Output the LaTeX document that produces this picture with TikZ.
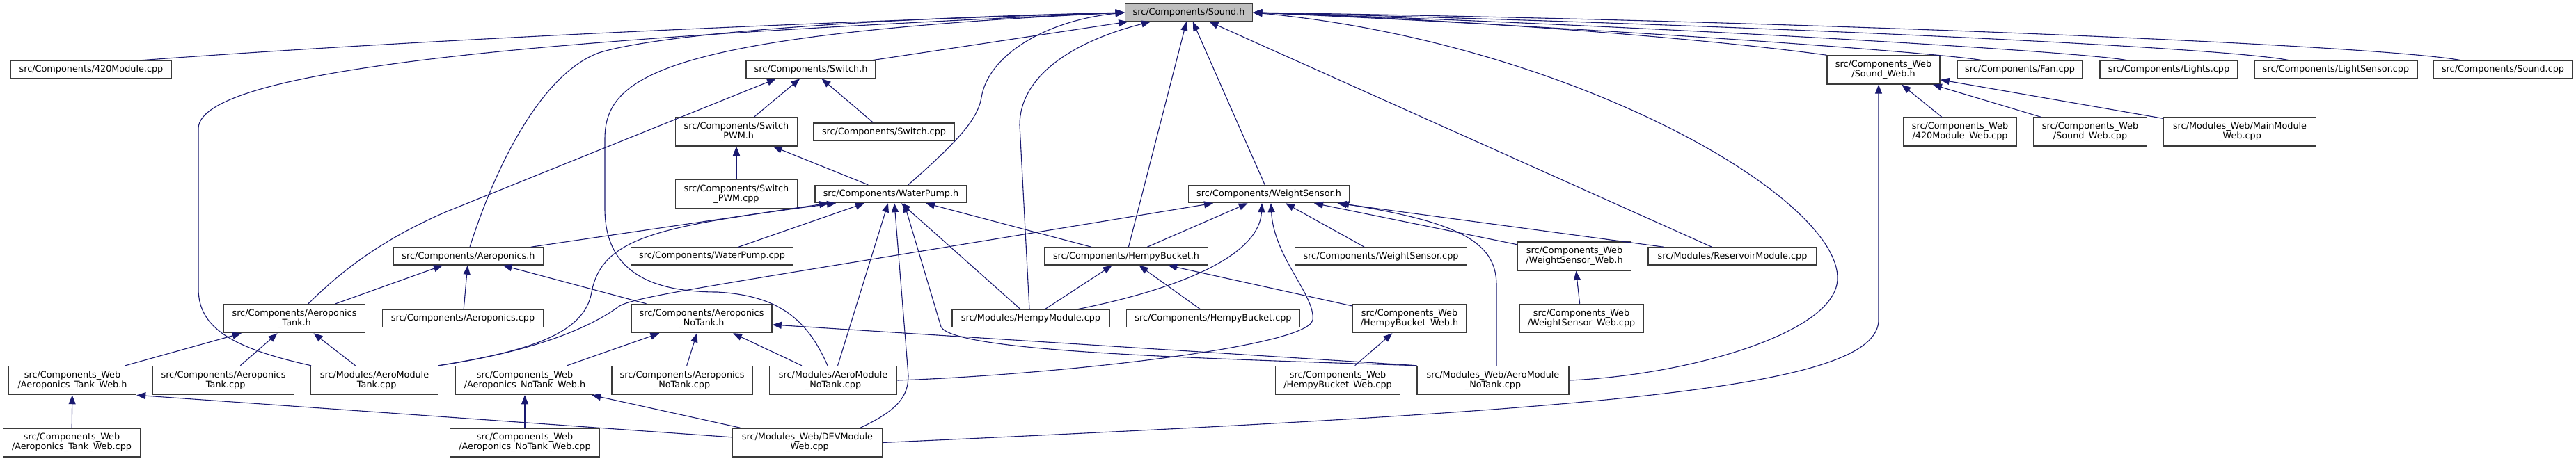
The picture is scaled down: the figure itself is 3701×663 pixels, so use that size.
\documentclass[tikz,border=0pt]{standalone}
\usepackage{fontspec}
\setmainfont{DejaVu Sans}
\usepackage{xcolor}
\definecolor{EdgeBlue}{HTML}{191970}
\definecolor{BoxLine}{HTML}{3A3A3A}
\definecolor{RootFill}{HTML}{BFBFBF}
\usepackage{tikz}
\usetikzlibrary{arrows.meta}
\tikzset{
  filenode/.style={
    draw=BoxLine,
    fill=white,
    line width=1.5pt,
    inner sep=0pt,
    minimum height=25pt,
    align=center,
    font=\fontsize{12.8}{14}\selectfont
  },
  twoline/.style={
    minimum height=41pt
  },
  rootnode/.style={
    filenode,
    fill=RootFill
  },
  incline/.style={
    draw=EdgeBlue,
    line width=1.1pt,
    -{Triangle[length=13pt,width=10pt]}
  }
}

\begin{document}
\begin{tikzpicture}[x=1pt,y=-1pt]
  \useasboundingbox (0,0) rectangle (3701,663);
  \node[rootnode, minimum width=183pt] (sound) at (1708,18) {src/Components/Sound.h};
  \node[filenode, minimum width=231pt] (m420) at (131,100) {src/Components/420Module.cpp};
  \node[filenode, minimum width=186pt] (switchh) at (1165,100) {src/Components/Switch.h};
  \node[filenode, twoline, minimum width=162pt] (soundweb) at (2706,100.5) {src/Components\_Web\\/Sound\_Web.h};
  \node[filenode, minimum width=180pt] (fan) at (2902,100) {src/Components/Fan.cpp};
  \node[filenode, minimum width=198pt] (lights) at (3116,100) {src/Components/Lights.cpp};
  \node[filenode, minimum width=234pt] (lightsensor) at (3356,100) {src/Components/LightSensor.cpp};
  \node[filenode, minimum width=199pt] (soundcpp) at (3596,100) {src/Components/Sound.cpp};
  \node[filenode, twoline, minimum width=175pt] (switchpwmh) at (1058,189.5) {src/Components/Switch\\\_PWM.h};
  \node[filenode, minimum width=202pt] (switchcpp) at (1270,189.5) {src/Components/Switch.cpp};
  \node[filenode, twoline, minimum width=163pt] (m420web) at (2816,189.5) {src/Components\_Web\\/420Module\_Web.cpp};
  \node[filenode, twoline, minimum width=163pt] (soundwebcpp) at (3003,189.5) {src/Components\_Web\\/Sound\_Web.cpp};
  \node[filenode, twoline, minimum width=219pt] (mainweb) at (3218,189.5) {src/Modules\_Web/MainModule\\\_Web.cpp};
  \node[filenode, twoline, minimum width=175pt] (switchpwmcpp) at (1058,279) {src/Components/Switch\\\_PWM.cpp};
  \node[filenode, minimum width=218pt] (waterpumph) at (1280,279) {src/Components/WaterPump.h};
  \node[filenode, minimum width=231pt] (weighth) at (1823,279) {src/Components/WeightSensor.h};
  \node[filenode, minimum width=216pt] (aeroh) at (673,368.5) {src/Components/Aeroponics.h};
  \node[filenode, minimum width=233pt] (waterpumpcpp) at (1023,368.5) {src/Components/WaterPump.cpp};
  \node[filenode, minimum width=235pt] (hempyh) at (1618,368.5) {src/Components/HempyBucket.h};
  \node[filenode, minimum width=247pt] (weightcpp) at (1984,368.5) {src/Components/WeightSensor.cpp};
  \node[filenode, twoline, minimum width=163pt] (weightwebh) at (2262,368.5) {src/Components\_Web\\/WeightSensor\_Web.h};
  \node[filenode, minimum width=242pt] (reservoir) at (2489,368.5) {src/Modules/ReservoirModule.cpp};
  \node[filenode, twoline, minimum width=203pt] (aerotankh) at (423,458) {src/Components/Aeroponics\\\_Tank.h};
  \node[filenode, minimum width=231pt] (aerocpp) at (665,458) {src/Components/Aeroponics.cpp};
  \node[filenode, twoline, minimum width=202pt] (aeronotankh) at (1008,458) {src/Components/Aeroponics\\\_NoTank.h};
  \node[filenode, minimum width=226pt] (hempymod) at (1481,458) {src/Modules/HempyModule.cpp};
  \node[filenode, minimum width=249pt] (hempycpp) at (1743,458) {src/Components/HempyBucket.cpp};
  \node[filenode, twoline, minimum width=164pt] (hempywebh) at (2025,458) {src/Components\_Web\\/HempyBucket\_Web.h};
  \node[filenode, twoline, minimum width=178pt] (weightwebcpp) at (2272,458) {src/Components\_Web\\/WeightSensor\_Web.cpp};
  \node[filenode, twoline, minimum width=183pt] (aerotankwebh) at (104,547) {src/Components\_Web\\/Aeroponics\_Tank\_Web.h};
  \node[filenode, twoline, minimum width=203pt] (aerotankcpp) at (321,547) {src/Components/Aeroponics\\\_Tank.cpp};
  \node[filenode, twoline, minimum width=183pt] (aeromodtank) at (538,547) {src/Modules/AeroModule\\\_Tank.cpp};
  \node[filenode, twoline, minimum width=199pt] (aeronotankwebh) at (754,547) {src/Components\_Web\\/Aeroponics\_NoTank\_Web.h};
  \node[filenode, twoline, minimum width=202pt] (aeronotankcpp) at (980,547) {src/Components/Aeroponics\\\_NoTank.cpp};
  \node[filenode, twoline, minimum width=183pt] (aeromodnotank) at (1197,547) {src/Modules/AeroModule\\\_NoTank.cpp};
  \node[filenode, twoline, minimum width=179pt] (hempywebcpp) at (1922,547) {src/Components\_Web\\/HempyBucket\_Web.cpp};
  \node[filenode, twoline, minimum width=218pt] (webaeronotank) at (2145,547) {src/Modules\_Web/AeroModule\\\_NoTank.cpp};
  \node[filenode, twoline, minimum width=197pt] (aerotankwebcpp) at (103,636.5) {src/Components\_Web\\/Aeroponics\_Tank\_Web.cpp};
  \node[filenode, twoline, minimum width=215pt] (aeronotankwebcpp) at (754,636.5) {src/Components\_Web\\/Aeroponics\_NoTank\_Web.cpp};
  \node[filenode, twoline, minimum width=215pt] (devweb) at (1160,636.5) {src/Modules\_Web/DEVModule\\\_Web.cpp};
  \foreach \src/\dst in {switchpwmh/switchh,switchcpp/switchh,switchh/sound,switchpwmcpp/switchpwmh,waterpumph/switchpwmh,waterpumpcpp/waterpumph,aeroh/waterpumph,hempyh/waterpumph,hempymod/waterpumph,aeromodnotank/waterpumph,hempyh/sound,weighth/sound,reservoir/sound,hempyh/weighth,weightcpp/weighth,weightwebh/weighth,reservoir/weighth,hempymod/hempyh,hempycpp/hempyh,hempywebh/hempyh,hempywebcpp/hempywebh,weightwebcpp/weightwebh,m420web/soundweb,soundwebcpp/soundweb,mainweb/soundweb,aerotankh/aeroh,aerocpp/aeroh,aeronotankh/aeroh,aerotankwebh/aerotankh,aerotankcpp/aerotankh,aeromodtank/aerotankh,aerotankwebcpp/aerotankwebh,aeronotankwebh/aeronotankh,aeronotankcpp/aeronotankh,aeromodnotank/aeronotankh,aeronotankwebcpp/aeronotankwebh,devweb/aeronotankwebh}{\draw[incline] (\src) -- (\dst);}
  \draw[incline] (devweb) -- (aerotankwebh.south east);
  \draw[incline] (webaeronotank.north west) -- ([yshift=-9pt]aeronotankh.east);
  \draw[incline] ([xshift=71pt]m420.north) .. controls (700,50) and (1300,28) .. (sound.west);
  \draw[incline] ([xshift=-91pt]aeromodtank.north) .. controls (330,500) and (285,470) .. (285,415) -- (285,185) .. controls (285,90) and (900,50) .. (sound.west);
  \draw[incline] ([xshift=2pt]aeroh.north) .. controls (705,260) and (770,110) .. (860,76) .. controls (960,45) and (1300,25) .. (sound.west);
  \draw[incline] ([xshift=-8pt]aeromodnotank.north) .. controls (1160,460) and (1120,425) .. (1030,420) .. controls (920,420) and (869,380) .. (869,300) -- (869,200) .. controls (869,110) and (950,50) .. (sound.west);
  \draw[incline] ([xshift=25pt]waterpumph.north) .. controls (1380,200) and (1405,170) .. (1410,140) .. controls (1420,80) and (1500,30) .. (sound.west);
  \draw[incline] ([xshift=-2pt]hempymod.north) -- (1465,180) .. controls (1465,110) and (1540,60) .. ([xshift=-55pt]sound.south);
  \draw[incline] (soundweb.north west) .. controls (2450,55) and (2100,28) .. (sound.east);
  \draw[incline] ([xshift=-54pt]fan.north) .. controls (2790,76) and (2300,40) .. (sound.east);
  \draw[incline] ([xshift=-60pt]lights.north) .. controls (3000,75) and (2400,38) .. (sound.east);
  \draw[incline] ([xshift=-67pt]lightsensor.north) .. controls (3200,68) and (2500,35) .. (sound.east);
  \draw[incline] ([xshift=-60pt]soundcpp.north) .. controls (3420,65) and (2600,30) .. (sound.east);
  \draw[incline] (webaeronotank.east) .. controls (2420,540) and (2640,480) .. (2640,400) .. controls (2640,280) and (2250,60) .. (sound.east);
  \draw[incline] (devweb.east) .. controls (2300,590) and (2699,560) .. (2699,460) -- ([xshift=-7pt]soundweb.south);
  \draw[incline] ([xshift=20pt]aerotankh.north) .. controls (500,380) and (560,340) .. (640,305) -- ([xshift=-50pt]switchh.south);
  \draw[incline] (aeromodtank.north east) .. controls (760,505) and (840,480) .. (850,420) .. controls (865,340) and (950,325) .. ([xshift=-79pt]waterpumph.south);
  \draw[incline] (aeromodtank.north east) .. controls (770,505) and (850,470) .. (890,440) .. controls (920,425) and (1000,415) .. ([xshift=-80pt]weighth.south);
  \draw[incline] ([xshift=67pt]hempymod.north) .. controls (1720,410) and (1810,360) .. ([xshift=-10pt]weighth.south);
  \draw[incline] (aeromodnotank.east) .. controls (1500,540) and (1880,500) .. (1886,460) .. controls (1890,425) and (1830,370) .. ([xshift=3pt]weighth.south);
  \draw[incline] ([xshift=5pt]webaeronotank.north) -- (2150,410) .. controls (2150,350) and (2100,320) .. ([xshift=102pt]weighth.south);
  \draw[incline] (webaeronotank.north west) .. controls (1700,515) and (1370,505) .. (1352,470) -- ([xshift=19pt]waterpumph.south);
  \draw[incline] ([xshift=76pt]devweb.north) .. controls (1290,590) and (1305,570) .. (1305,540) -- ([xshift=5pt]waterpumph.south);
\end{tikzpicture}
\end{document}
